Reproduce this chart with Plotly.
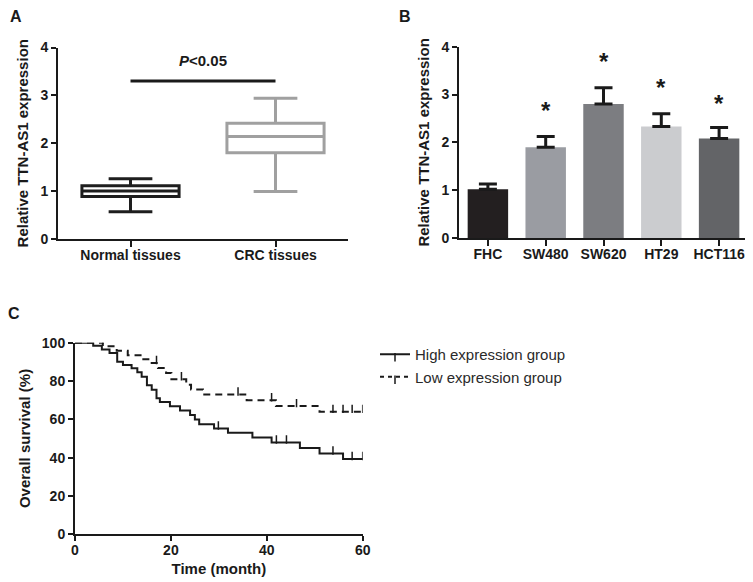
import plotly.graph_objects as go

W, H = 753, 582
OX, OY = 8, 8  # page offset of the plot div (default body margin)

# ---------------- Data ----------------
# Panel A: box plot summary
box_groups = ["Normal tissues", "CRC tissues"]
box_q1 = [0.89, 1.80]
box_median = [1.00, 2.14]
box_q3 = [1.11, 2.42]
box_low = [0.57, 0.99]
box_high = [1.26, 2.94]
box_colors = ["#1e1e1e", "#a0a0a0"]
sig_text = "<i>P</i><0.05"
sig_y = 3.30

# Panel B: bar chart
cell_lines = ["FHC", "SW480", "SW620", "HT29", "HCT116"]
cell_values = [1.02, 1.90, 2.80, 2.33, 2.08]
cell_err = [0.11, 0.22, 0.34, 0.27, 0.23]
cell_colors = ["#231f20", "#9a9ca2", "#7c7d81", "#cbcccf", "#636467"]
star_y = [None, 2.66, 3.68, 3.14, 2.82]

# Panel C: Kaplan-Meier
high_t = [0, 3.8, 5.6, 7.2, 8.8, 10.0, 11.8, 13.0, 13.9, 15.0, 16.0, 17.0, 17.7,
          19.8, 21.9, 24.0, 25.0, 25.9, 29.0, 31.9, 37.0, 41.0, 46.9, 51.0, 55.9, 60]
high_s = [100, 98.4, 96.5, 94.6, 90.0, 88.3, 86.6, 84.6, 82.2, 77.8, 75.4, 71.0, 69.1,
          66.8, 64.6, 62.2, 59.9, 57.5, 55.2, 53.0, 50.5, 47.9, 45.1, 42.2, 39.3, 39.3]
high_cens_t = [29.9, 42.0, 44.1, 53.8, 57.8, 60]
high_cens_s = [55.2, 47.9, 47.9, 42.2, 39.3, 39.3]

low_t = [0, 5.8, 8.7, 11.0, 13.9, 15.3, 17.3, 19.0, 20.1, 23.2, 24.2, 26.7, 35.8, 41.9, 51.0, 60]
low_s = [100, 98.2, 95.8, 93.5, 91.3, 89.4, 86.8, 84.2, 80.9, 78.0, 75.6, 73.0, 70.0, 66.9, 63.9, 63.9]
low_cens_t = [5.8, 17.0, 22.2, 34.0, 41.0, 46.2, 53.8, 55.9, 57.8, 60]
low_cens_s = [100, 89.4, 80.9, 73.0, 70.0, 66.9, 63.9, 63.9, 63.9, 63.9]

# ---------------- Layout helpers ----------------
def fx(p):
    return (p - OX) / W

def fy(p):
    return 1 - (p - OY) / H

def px_x(a, b):
    return [fx(a), fx(b)]

def px_y(top, bottom):
    return [fy(bottom), fy(top)]

FONT = "Liberation Sans, Arial, sans-serif"
AX = "#1a1a1a"
tickfont = dict(family=FONT, size=14, color="#1a1a1a")
titlefont = dict(family=FONT, size=15, color="#1a1a1a")
cens_marker = dict(symbol="line-ns", size=6, angle=180, standoff=3,
                   line=dict(color="#1a1a1a", width=1.5))

fig = go.Figure()

# Panel A boxes
for i, g in enumerate(box_groups):
    fig.add_trace(go.Box(
        x=[g], q1=[box_q1[i]], median=[box_median[i]], q3=[box_q3[i]],
        lowerfence=[box_low[i]], upperfence=[box_high[i]],
        width=0.67, whiskerwidth=0.45,
        fillcolor="rgba(255,255,255,0)",
        line=dict(color=box_colors[i], width=3),
        boxpoints=False, showlegend=False, hoverinfo="skip",
        xaxis="x", yaxis="y",
    ))

# significance line
fig.add_trace(go.Scatter(
    x=box_groups, y=[sig_y, sig_y], mode="lines",
    line=dict(color="#1a1a1a", width=3), showlegend=False, hoverinfo="skip",
    xaxis="x", yaxis="y",
))

# Panel B bars
fig.add_trace(go.Bar(
    x=cell_lines, y=cell_values, width=0.7,
    marker=dict(color=cell_colors, line=dict(width=0)),
    error_y=dict(type="data", symmetric=False, array=cell_err,
                 arrayminus=[0] * len(cell_err), color="#1a1a1a",
                 thickness=3, width=9),
    showlegend=False, hoverinfo="skip", xaxis="x2", yaxis="y2",
))

# Panel C curves
fig.add_trace(go.Scatter(
    x=high_t, y=high_s, mode="lines", line=dict(color="#1a1a1a", width=2, shape="hv"),
    showlegend=False, hoverinfo="skip", xaxis="x3", yaxis="y3",
))
fig.add_trace(go.Scatter(
    x=low_t, y=low_s, mode="lines",
    line=dict(color="#1a1a1a", width=2, shape="hv", dash="7px,5px"),
    showlegend=False, hoverinfo="skip", xaxis="x3", yaxis="y3",
))
fig.add_trace(go.Scatter(
    x=high_cens_t, y=high_cens_s, mode="markers", marker=cens_marker,
    showlegend=False, hoverinfo="skip", xaxis="x3", yaxis="y3",
))
fig.add_trace(go.Scatter(
    x=low_cens_t, y=low_cens_s, mode="markers", marker=cens_marker,
    showlegend=False, hoverinfo="skip", xaxis="x3", yaxis="y3",
))
# legend entries
fig.add_trace(go.Scatter(
    x=[None], y=[None], mode="lines+markers", name="High expression group",
    line=dict(color="#1a1a1a", width=2), marker=cens_marker,
    xaxis="x3", yaxis="y3",
))
fig.add_trace(go.Scatter(
    x=[None], y=[None], mode="lines+markers", name="Low expression group",
    line=dict(color="#1a1a1a", width=2, dash="4px,4px"), marker=cens_marker,
    xaxis="x3", yaxis="y3",
))

axis_common = dict(
    showline=True, linecolor=AX, linewidth=2, ticks="outside", tickcolor=AX,
    tickwidth=2, ticklen=5, showgrid=False, zeroline=False, tickfont=tickfont,
    title_font=titlefont, fixedrange=True, automargin=False,
)
bold_ticks = dict(tickfont, weight="bold")

annotations = []
# star annotations
for c, sy in zip(cell_lines, star_y):
    if sy is None:
        continue
    annotations.append(dict(x=c, y=sy, xref="x2", yref="y2", text="<b>*</b>",
                            showarrow=False, font=dict(family=FONT, size=24, color="#1a1a1a"),
                            yanchor="middle"))
annotations.append(dict(x=0.5, y=3.72, xref="x", yref="y", text="<b>" + sig_text + "</b>",
                        showarrow=False, font=dict(family=FONT, size=15, color="#1a1a1a")))
annotations.append(dict(x=0, y=1.0, xref="paper", yref="paper",
                        text="<b>A</b>", showarrow=False,
                        font=dict(family=FONT, size=16, color="#1a1a1a"),
                        xanchor="left", yanchor="top", yshift=2))
annotations.append(dict(x=fx(405), y=1.0, xref="paper", yref="paper",
                        text="<b>B</b>", showarrow=False,
                        font=dict(family=FONT, size=16, color="#1a1a1a"),
                        xanchor="center", yanchor="top", yshift=2))
annotations.append(dict(x=fx(14), y=fy(313), xref="paper", yref="paper",
                        text="<b>C</b>", showarrow=False,
                        font=dict(family=FONT, size=16, color="#1a1a1a"),
                        xanchor="center", yanchor="middle"))

fig.update_layout(
    template="none",
    width=W, height=H, margin=dict(l=0, r=0, t=0, b=0, autoexpand=False),
    paper_bgcolor="white", plot_bgcolor="white",
    font=dict(family=FONT, color="#1a1a1a"),
    xaxis=dict(axis_common, anchor="y", domain=px_x(58, 348), range=[-0.5, 1.5],
               type="category", ticklen=6, tickfont=bold_ticks, ticklabelstandoff=-4),
    yaxis=dict(axis_common, anchor="x", domain=px_y(47.5, 239), range=[0, 4], dtick=1,
               tickfont=bold_ticks,
               title=dict(text="<b>Relative TTN-AS1 expression</b>", standoff=8)),
    xaxis2=dict(axis_common, anchor="y2", domain=px_x(459, 748), range=[-0.5, 4.5],
                type="category", ticklen=6, tickfont=bold_ticks, ticklabelstandoff=-4),
    yaxis2=dict(axis_common, anchor="x2", domain=px_y(46.7, 238), range=[0, 4], dtick=1,
                tickfont=bold_ticks,
                title=dict(text="<b>Relative TTN-AS1 expression</b>", standoff=8)),
    xaxis3=dict(axis_common, anchor="y3", domain=px_x(75, 362.7), range=[0, 60], dtick=20,
                tickfont=bold_ticks, ticklabelstandoff=-3,
                title=dict(text="<b>Time (month)</b>", standoff=6)),
    yaxis3=dict(axis_common, anchor="x3", domain=px_y(342.7, 534.3), range=[0, 100], dtick=20,
                tickfont=bold_ticks,
                title=dict(text="<b>Overall survival (%)</b>", standoff=8)),
    legend=dict(x=fx(375), y=fy(338), xanchor="left", yanchor="top",
                font=dict(family=FONT, size=15, color="#2a2a2a"),
                bgcolor="rgba(0,0,0,0)", itemwidth=30, tracegroupgap=0),
    annotations=annotations,
    bargap=0.3,
)

fig.write_html("out.html")
